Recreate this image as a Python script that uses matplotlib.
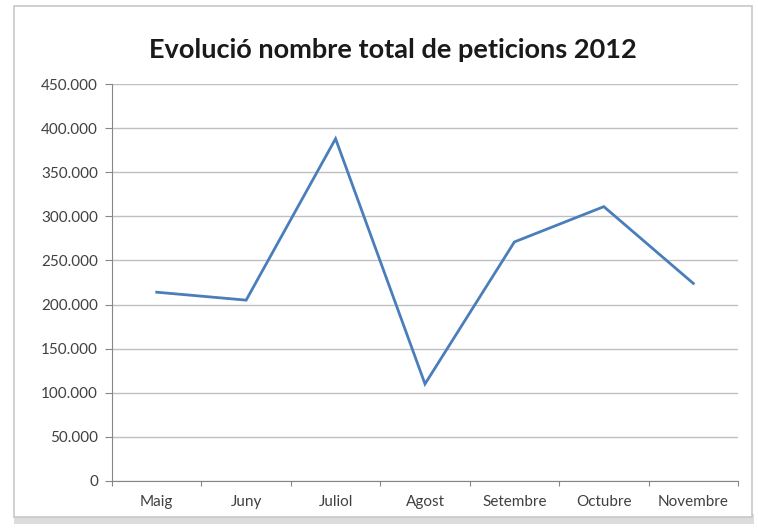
import matplotlib.pyplot as plt
from matplotlib.patches import Rectangle
from matplotlib.ticker import FuncFormatter, FixedLocator

# data (nombre de peticions per mes, 2012)
months = ['Maig', 'Juny', 'Juliol', 'Agost', 'Setembre', 'Octubre', 'Novembre']
requests = [214000, 205000, 388000, 110000, 271000, 311000, 224000]
yticks = list(range(0, 450001, 50000))

plt.rcParams['font.family'] = ['Lato', 'DejaVu Sans']

fig = plt.figure(figsize=(7.58, 5.28), dpi=100)
fig.patch.set_facecolor('white')

# chart frame with a soft shadow at the bottom
fig.patches.append(Rectangle((14 / 758, 1 - 524 / 528), 740 / 758, 10 / 528,
                             transform=fig.transFigure, facecolor='#dcdcdc',
                             edgecolor='none', zorder=-2))
fig.patches.append(Rectangle((14 / 758, 1 - 517 / 528), 738 / 758, 511 / 528,
                             transform=fig.transFigure, facecolor='white',
                             edgecolor='#c8c8c8', linewidth=1.2, zorder=-1))

ax = fig.add_axes([112 / 758, 47 / 528, 626 / 758, 397 / 528])
ax.set_facecolor('none')
ax.set_zorder(2)

x = [i + 0.5 for i in range(len(months))]
ax.plot(x, requests, color='#4a7ebb', linewidth=2.0, solid_joinstyle='miter', zorder=3)

ax.set_xlim(0, len(months))
ax.set_ylim(0, 450000)
ax.set_yticks(yticks)
ax.yaxis.set_major_formatter(FuncFormatter(lambda v, p: f'{int(v):,}'.replace(',', '.')))
ax.grid(axis='y', color='#c0c0c0', linewidth=1.0)
ax.set_axisbelow(True)

# category boundaries as ticks, labels centred between them
ax.xaxis.set_major_locator(FixedLocator(range(len(months) + 1)))
ax.xaxis.set_minor_locator(FixedLocator(x))
ax.set_xticklabels([''] * (len(months) + 1))
ax.set_xticklabels(months, minor=True)
ax.tick_params(axis='x', which='major', length=3.5, color='#868686', direction='out')
ax.tick_params(axis='x', which='minor', length=0, pad=10, labelsize=11, labelcolor='#404040')
ax.tick_params(axis='y', length=5, color='#868686', labelsize=11, labelcolor='#404040', pad=5)

for side in ['top', 'right']:
    ax.spines[side].set_visible(False)
for side in ['left', 'bottom']:
    ax.spines[side].set_color('#868686')

fig.text(393 / 758, 1 - 50 / 528, 'Evolució nombre total de peticions 2012',
         ha='center', va='center', fontsize=19.5, fontweight='bold', color='#1a1a1a')

fig.savefig('out.png', dpi=100)
